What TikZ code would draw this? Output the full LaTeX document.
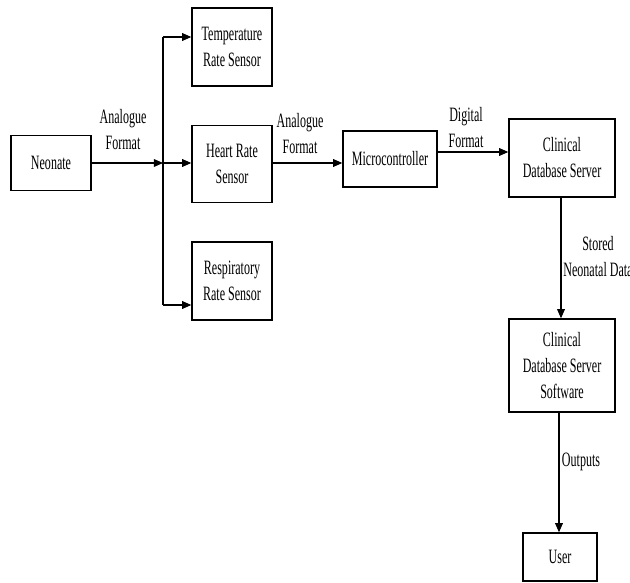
\documentclass[tikz,border=0pt]{standalone}
\usepackage{fontspec}
\setmainfont[FakeStretch=0.59]{Liberation Serif}
\usepackage{tikz}
\usetikzlibrary{arrows.meta, positioning, calc}

\begin{document}
\begin{tikzpicture}[
    x=0.025cm, y=-0.025cm,
    blk/.style={draw, line width=1pt, align=center, inner sep=1pt,
                font=\fontsize{14.5}{18.5}\selectfont},
    lbl/.style={align=center, inner sep=0pt, font=\fontsize{14.5}{18.5}\selectfont},
    arr/.style={-{Triangle[length=6.5pt, width=5.5pt]}, line width=0.8pt},
]
    \useasboundingbox (0,0) rectangle (630,583);

    % sensing side
    \node[blk, minimum width=2cm, minimum height=1.375cm] (neo) at (51,163) {Neonate};
    \node[blk, minimum width=2cm, minimum height=1.95cm] (temp) at (232,47) {Temperature\\Rate Sensor};
    \node[blk, minimum width=2cm, minimum height=1.925cm] (heart) at (232,164) {Heart Rate\\Sensor};
    \node[blk, minimum width=2cm, minimum height=1.95cm] (resp) at (232,281) {Respiratory\\Rate Sensor};

    % processing side
    \node[blk, minimum width=2.35cm, minimum height=1.4cm] (micro) at (390,159) {Microcontroller};
    \node[blk, minimum width=2.65cm, minimum height=1.95cm] (cdb) at (562,158) {Clinical\\Database Server};
    \node[blk, minimum width=2.65cm, minimum height=2.325cm] (cdbs) at (562,365.5) {Clinical\\Database Server\\Software};
    \node[blk, minimum width=1.85cm, minimum height=1.2cm] (user) at (560,557) {User};

    % split point
    \coordinate (split) at (163,163);
    \coordinate (tj) at (163,37);
    \coordinate (rj) at (163,305);

    \draw[arr] (neo.east |- split) -- (split);
    \draw[line width=0.8pt] (tj) -- (rj);
    \draw[arr] (tj) -- (tj -| temp.west);
    \draw[arr] (split) -- (split -| heart.west);
    \draw[arr] (rj) -- (rj -| resp.west);

    \draw[arr] (heart.east |- split) -- (split -| micro.west);
    \draw[arr] ([yshift=0.175cm]micro.east) -- ([yshift=0.175cm]micro.east -| cdb.west);
    \draw[arr] (cdb.south -| 561,0) -- (cdbs.north -| 561,0);
    \draw[arr] (cdbs.south -| 559,0) -- (user.north -| 559,0);

    % labels
    \node[lbl] (l1) at (123,130) {Analogue\\Format};
    \node[lbl] (l2) at (300,134) {Analogue\\Format};
    \node[lbl] (l3) at (466,128) {Digital\\Format};
    \node[lbl] (l4) at (598,257) {Stored\\Neonatal Data};
    \node[lbl] (l5) at (581,462) {Outputs};
\end{tikzpicture}
\end{document}
